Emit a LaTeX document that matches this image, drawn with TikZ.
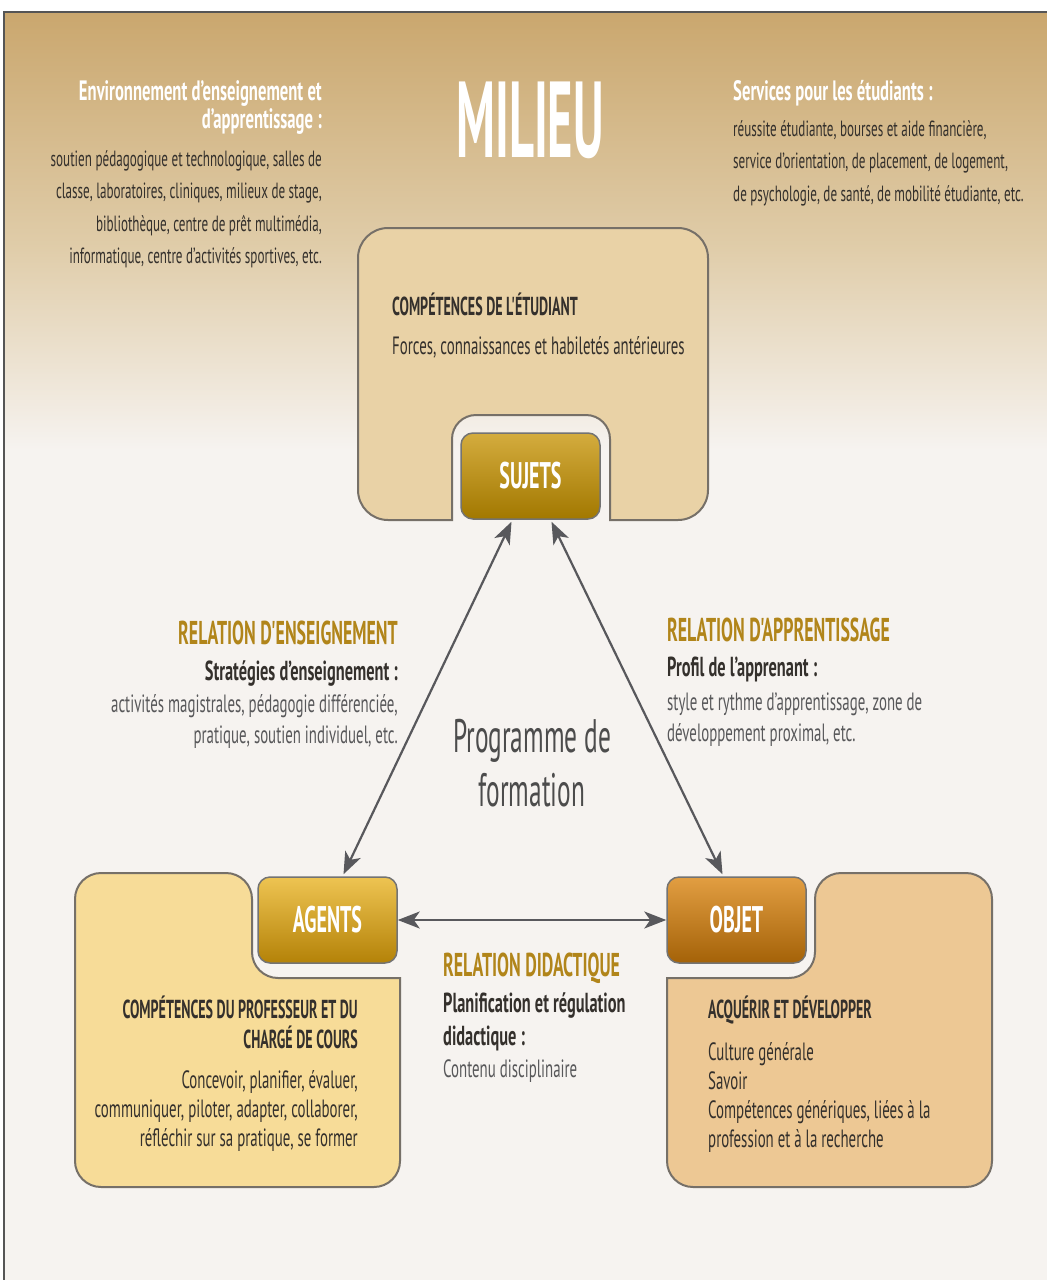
\documentclass[tikz,border=0pt]{standalone}
\usepackage{fontspec}
\setmainfont{PT Sans}[FakeStretch=0.595]
\newfontfamily\headfont{PT Sans}[FakeStretch=0.54]
\newfontfamily\bigfont{PT Sans}[FakeStretch=0.45]
\usetikzlibrary{arrows.meta,calc,positioning}

\definecolor{topbrown}{RGB}{202,167,110}
\definecolor{midbrown}{RGB}{224,205,170}
\definecolor{paper}{RGB}{246,243,240}
\definecolor{framegray}{RGB}{85,85,85}
\definecolor{boxgray}{RGB}{118,112,104}
\definecolor{sujetsfill}{RGB}{233,210,166}
\definecolor{agentsfill}{RGB}{247,220,152}
\definecolor{objetfill}{RGB}{237,200,148}
\definecolor{sujetstop}{RGB}{212,172,62}
\definecolor{sujetsmid}{RGB}{188,144,14}
\definecolor{sujetsbot}{RGB}{162,120,0}
\definecolor{agentstop}{RGB}{238,196,82}
\definecolor{agentsmid}{RGB}{220,164,14}
\definecolor{agentsbot}{RGB}{180,130,8}
\definecolor{objettop}{RGB}{226,158,66}
\definecolor{objetmid}{RGB}{204,126,20}
\definecolor{objetbot}{RGB}{164,98,8}
\definecolor{txtdark}{RGB}{52,48,44}
\definecolor{txtgray}{RGB}{88,88,90}
\definecolor{relgold}{RGB}{177,133,26}
\definecolor{arrowgray}{RGB}{88,88,92}

\begin{document}
\begin{tikzpicture}[x=1pt,y=-1pt,
  box/.style={draw=boxgray,line width=2pt},
  button/.style={draw=black!55,line width=1.5pt,rounded corners=12pt,
    minimum width=139pt,minimum height=86pt,inner sep=0pt,text=white,
    font=\headfont\bfseries\fontsize{37}{37}\selectfont},
  arr/.style={{Stealth[length=22pt,width=17pt,inset=6pt]}-{Stealth[length=22pt,width=17pt,inset=6pt]},
    draw=arrowgray,line width=2.2pt},
  smalltxt/.style={font=\fontsize{22}{32.5}\selectfont,text=txtdark,inner sep=0pt},
  whitehead/.style={font=\bfseries\fontsize{28}{28}\selectfont,text=white,inner sep=0pt},
  boxhead/.style={font=\headfont\bfseries\fontsize{26}{30}\selectfont,text=txtdark,inner sep=0pt},
  boxtxt/.style={font=\fontsize{25}{29}\selectfont,text=txtdark,inner sep=0pt},
  relhead/.style={font=\headfont\bfseries\fontsize{33}{33}\selectfont,text=relgold,inner sep=0pt},
  relsub/.style={font=\bfseries\fontsize{27.5}{33}\selectfont,text=txtdark,inner sep=0pt},
  reltxt/.style={font=\fontsize{25}{31}\selectfont,text=txtgray,inner sep=0pt}]
\useasboundingbox (0,0) rectangle (1047,1280);

% background
\fill[white] (0,0) rectangle (1047,1280);
\fill[paper] (4,12) rectangle (1047,1280);
\shade[top color=topbrown,bottom color=midbrown] (4,12) rectangle (1047,250);
\shade[top color=midbrown,bottom color=paper] (4,249) rectangle (1047,450);
\draw[framegray,line width=2.5pt] (4,1280) -- (4,12) -- (1047,12);

% milieu
\node[anchor=north,inner sep=0pt,text=white,font=\bigfont\bfseries\fontsize{108}{108}\selectfont] (milieu) at (530,82) {MILIEU};
\node[whitehead,anchor=north east,align=right] (envhead) at (322,80) {Environnement d'enseignement et\\d'apprentissage :};
\node[smalltxt,anchor=north east,align=right] (envtxt) at (322,150) {soutien pédagogique et technologique, salles de\\classe, laboratoires, cliniques, milieux de stage,\\bibliothèque, centre de prêt multimédia,\\informatique, centre d'activités sportives, etc.};
\node[whitehead,anchor=north west,align=left] (servhead) at (733,80) {Services pour les étudiants :};
\node[smalltxt,anchor=north west,align=left] (servtxt) at (733,120) {réussite étudiante, bourses et aide financière,\\service d'orientation, de placement, de logement,\\de psychologie, de santé, de mobilité étudiante, etc.};

% boxes
\draw[box,fill=sujetsfill] (610,520) [rounded corners=24] -- (610,415) -- (452,415) [sharp corners] -- (452,520) [rounded corners=30] -- (358,520) -- (358,228) -- (708,228) -- (708,520) [sharp corners] -- cycle;
\draw[box,fill=agentsfill] (400,978) [rounded corners=26] -- (252,978) -- (252,873) -- (75,873) -- (75,1187) -- (400,1187) [sharp corners] -- cycle;
\draw[box,fill=objetfill] (667,978) [rounded corners=26] -- (815,978) -- (815,873) -- (992,873) -- (992,1187) -- (667,1187) [sharp corners] -- cycle;

% buttons
\node[button,top color=sujetstop,middle color=sujetsmid,bottom color=sujetsbot] (sujets) at (530.5,476) {SUJETS};
\node[button,top color=agentstop,middle color=agentsmid,bottom color=agentsbot] (agents) at (327.5,920) {AGENTS};
\node[button,top color=objettop,middle color=objetmid,bottom color=objetbot] (objet) at (736.5,920) {OBJET};

% arrows
\draw[arr] ($(sujets.south)+(-19,2)$) -- ($(agents.north)+(16,-2)$);
\draw[arr] ($(sujets.south)+(21,2)$) -- ($(objet.north)+(-14,-2)$);
\draw[arr] (agents) -- (objet);

% box texts
\node[boxhead,anchor=north west] (etuhead) at (392,293) {COMPÉTENCES DE L'ÉTUDIANT};
\node[boxtxt,anchor=north west] (etutxt) at (392,336) {Forces, connaissances et habiletés antérieures};
\node[boxhead,anchor=north east,align=right] (profhead) at (358,996) {COMPÉTENCES DU PROFESSEUR ET DU\\CHARGÉ DE COURS};
\node[boxtxt,anchor=north east,align=right] (proftxt) at (358,1070) {Concevoir, planifier, évaluer,\\communiquer, piloter, adapter, collaborer,\\réfléchir sur sa pratique, se former};
\node[boxhead,anchor=north west] (objhead) at (708,996) {ACQUÉRIR ET DÉVELOPPER};
\node[boxtxt,anchor=north west,align=left] (objtxt) at (708,1042) {Culture générale\\Savoir\\Compétences génériques, liées à la\\profession et à la recherche};

% relations
\node[relhead,anchor=north east] (enshead) at (398,621) {RELATION D'ENSEIGNEMENT};
\node[relsub,anchor=north east] (enssub) at (398,660) {Stratégies d'enseignement :};
\node[reltxt,anchor=north east,align=right] (enstxt) at (398,694) {activités magistrales, pédagogie différenciée,\\pratique, soutien individuel, etc.};
\node[relhead,anchor=north west] (apphead) at (667,618) {RELATION D'APPRENTISSAGE};
\node[relsub,anchor=north west] (appsub) at (667,657) {Profil de l'apprenant :};
\node[reltxt,anchor=north west,align=left] (apptxt) at (667,693) {style et rythme d'apprentissage, zone de\\développement proximal, etc.};
\node[relhead,anchor=north west] (didhead) at (443,953) {RELATION DIDACTIQUE};
\node[relsub,anchor=north west,align=left] (didsub) at (443,992) {Planification et régulation\\didactique :};
\node[reltxt,anchor=north west] (didtxt) at (443,1059) {Contenu disciplinaire};

% centre
\node[anchor=north,align=center,inner sep=0pt,text=black!70,font=\headfont\fontsize{47}{54}\selectfont] (prog) at (532,719) {Programme de\\formation};
\end{tikzpicture}
\end{document}
